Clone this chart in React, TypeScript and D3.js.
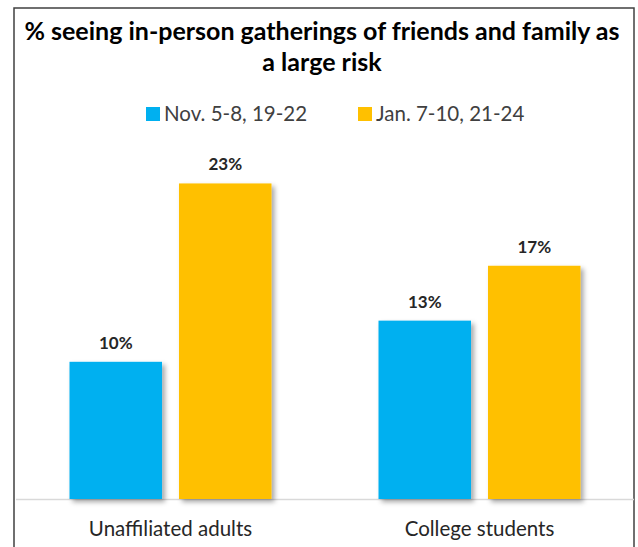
import React from "react";
import * as d3 from "d3";

const categories = ["Unaffiliated adults", "College students"];
const seriesNames = ["Nov. 5-8, 19-22", "Jan. 7-10, 21-24"];
const novValues = [10, 13];
const janValues = [23, 17];
const colors = ["#00B0F0", "#FFC000"];
const titleLines = ["% seeing in-person gatherings of friends and family as", "a large risk"];

const W = 638;
const H = 547;
const FONT = "Lato, 'Open Sans', sans-serif";

export default function App() {
  const left = 16;
  const right = 634;
  const baseY = 499;
  const y = d3.scaleLinear().domain([0, 25]).range([baseY, baseY - 25 * 13.72]);
  const x0 = d3.scaleBand<string>().domain(categories).range([left, right]).padding(0);
  const groupW = 202;
  const values = [novValues, janValues];

  return (
    <svg
      width={W}
      height={H}
      style={{ position: "absolute", left: 0, top: 0, background: "#fff" }}
      fontFamily={FONT}
    >
      <defs>
        <filter id="shadow" x="-20%" y="-20%" width="150%" height="150%">
          <feDropShadow dx="3" dy="3" stdDeviation="2.5" floodColor="#000" floodOpacity="0.35" />
        </filter>
      </defs>
      <rect x={0} y={0} width={W} height={H} fill="#fff" />
      <rect x={14} y={8} width={620} height={560} fill="#fff" stroke="#404040" strokeWidth={1.5} />
      {titleLines.map((t, i) => (
        <text
          key={i}
          x={W / 2 + 3}
          y={40 + i * 31}
          textAnchor="middle"
          fontSize={25}
          fontWeight="bold"
          fill="#000"
        >
          {t}
        </text>
      ))}
      {seriesNames.map((s, i) => {
        const lx = [146, 358][i];
        return (
          <g key={s}>
            <rect x={lx} y={107} width={14} height={14} fill={colors[i]} />
            <text x={lx + 18} y={121} fontSize={20.5} fill="#404040">
              {s}
            </text>
          </g>
        );
      })}
      <line x1={left} x2={right} y1={baseY + 0.5} y2={baseY + 0.5} stroke="#d9d9d9" strokeWidth={1.5} />
      {categories.map((c, ci) => {
        const center = (x0(c) as number) + x0.bandwidth() / 2;
        const x1 = d3
          .scaleBand<string>()
          .domain(seriesNames)
          .range([center - groupW / 2, center + groupW / 2])
          .paddingInner(0.155);
        return (
          <g key={c}>
            {seriesNames.map((s, si) => {
              const v = values[si][ci];
              const bx = x1(s) as number;
              return (
                <g key={s}>
                  <rect
                    x={bx}
                    y={y(v)}
                    width={x1.bandwidth()}
                    height={baseY - y(v)}
                    fill={colors[si]}
                    filter="url(#shadow)"
                  />
                  <text
                    x={bx + x1.bandwidth() / 2}
                    y={y(v) - 13}
                    textAnchor="middle"
                    fontSize={17}
                    fontWeight="bold"
                    fill="#262626"
                  >
                    {v}%
                  </text>
                </g>
              );
            })}
            <text x={center} y={536} textAnchor="middle" fontSize={20.5} fill="#262626">
              {c}
            </text>
          </g>
        );
      })}
    </svg>
  );
}
